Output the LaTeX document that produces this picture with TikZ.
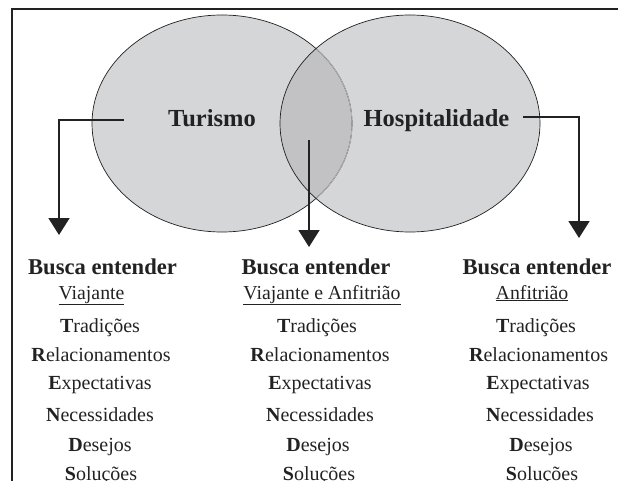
\documentclass[tikz,border=0pt]{standalone}
\usepackage{fontspec}
\setmainfont{Liberation Serif}
\usetikzlibrary{arrows.meta}
\definecolor{venn}{HTML}{D5D6D8}
\definecolor{vennmid}{HTML}{C2C2C4}
\definecolor{inkc}{HTML}{222222}
\tikzset{
  conn/.style={line width=1.8pt, draw=inkc, -{Triangle[width=21pt,length=17pt]}},
  ring/.style={line width=0.7pt, draw=inkc},
  title/.style={font=\fontsize{24.5}{28}\selectfont\bfseries, inner sep=0pt, anchor=base, text=inkc},
  head/.style={font=\fontsize{22.6}{26}\selectfont\bfseries, inner sep=0pt, anchor=base, text=inkc},
  sub/.style={font=\fontsize{19.8}{23}\selectfont, inner sep=0pt, anchor=base, text=inkc},
  item/.style={font=\fontsize{20}{23}\selectfont, inner sep=0pt, anchor=base, text=inkc},
}
\begin{document}
\begin{tikzpicture}[x=1pt,y=-1pt]
\useasboundingbox (0,0) rectangle (618,481);
% frame
\draw[line width=2pt, inkc] (12,482) -- (12,9) -- (620,9);
% venn
\fill[venn] (222,123.5) ellipse [x radius=130pt, y radius=108.5pt];
\fill[venn] (410,123.5) ellipse [x radius=130pt, y radius=108.5pt];
\begin{scope}
  \clip (222,123.5) ellipse [x radius=130pt, y radius=108.5pt];
  \fill[vennmid] (410,123.5) ellipse [x radius=130pt, y radius=108.5pt];
\end{scope}
\draw[ring] (222,123.5) ellipse [x radius=130pt, y radius=108.5pt];
\begin{scope}
  \clip (410,123.5) ellipse [x radius=130pt, y radius=108.5pt];
  \draw[line width=0.9pt, draw=gray!60] (222,123.5) ellipse [x radius=130pt, y radius=108.5pt];
\end{scope}
\draw[ring] (410,123.5) ellipse [x radius=130pt, y radius=108.5pt];
% titles
\node[title] (tur) at (212,127) {Turismo};
\node[title] (hos) at (436.5,127) {Hospitalidade};
% connectors
\coordinate (la0) at (124,120);
\coordinate (la1) at (59,235);
\coordinate (ma0) at (309,140);
\coordinate (ma1) at (309,247);
\coordinate (ra0) at (523,117);
\coordinate (ra1) at (579,238);
\draw[conn] (la0) -| (la1);
\draw[conn] (ma0) -- (ma1);
\draw[conn] (ra0) -| (ra1);
% left column
\node[head] (lh) at (102.5,274) {Busca entender};
\node[sub] (ls) at (91.5,299) {\underline{Viajante}};
\node[item] (l1) at (100,332) {\textbf{T}radições};
\node[item] (l2) at (101,361) {\textbf{R}elacionamentos};
\node[item] (l3) at (100,389) {\textbf{E}xpectativas};
\node[item] (l4) at (100,421) {\textbf{N}ecessidades};
\node[item] (l5) at (100,451) {\textbf{D}esejos};
\node[item] (l6) at (101,480) {\textbf{S}oluções};
% middle column
\node[head] (mh) at (316,274) {Busca entender};
\node[sub] (ms) at (322,299) {\underline{Viajante e Anfitrião}};
\node[item] (m1) at (317,332) {\textbf{T}radições};
\node[item] (m2) at (320,361) {\textbf{R}elacionamentos};
\node[item] (m3) at (320,389) {\textbf{E}xpectativas};
\node[item] (m4) at (320,421) {\textbf{N}ecessidades};
\node[item] (m5) at (318,451) {\textbf{D}esejos};
\node[item] (m6) at (319,480) {\textbf{S}oluções};
% right column
\node[head] (rh) at (537,274) {Busca entender};
\node[sub] (rs) at (532,299) {\underline{Anfitrião}};
\node[item] (r1) at (536,332) {\textbf{T}radições};
\node[item] (r2) at (538.5,361) {\textbf{R}elacionamentos};
\node[item] (r3) at (538,389) {\textbf{E}xpectativas};
\node[item] (r4) at (540,421) {\textbf{N}ecessidades};
\node[item] (r5) at (541,451) {\textbf{D}esejos};
\node[item] (r6) at (542,480) {\textbf{S}oluções};
\end{tikzpicture}
\end{document}
